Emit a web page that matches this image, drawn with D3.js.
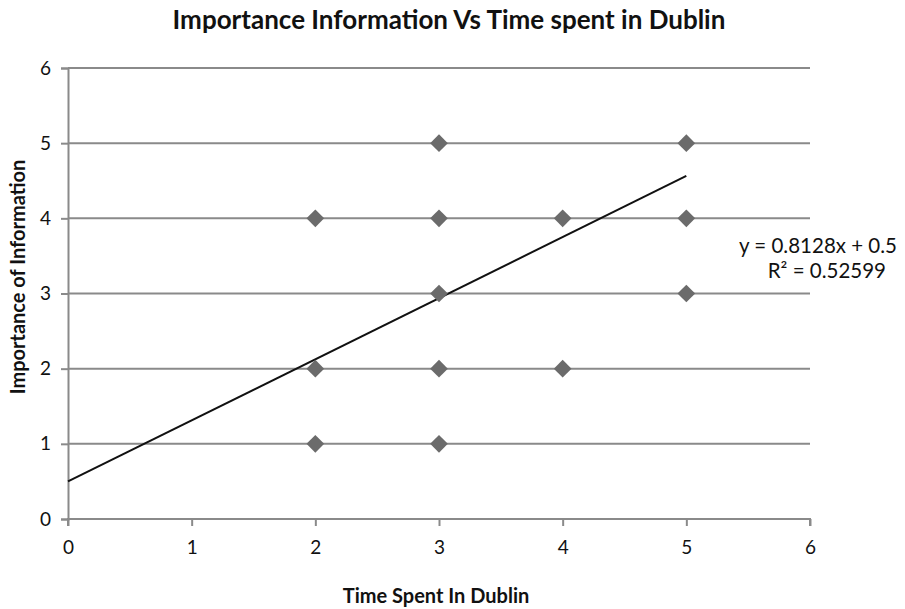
<!DOCTYPE html>
<html><head><meta charset="utf-8">
<script src="https://cdn.jsdelivr.net/npm/d3@7"></script>
<style>body{margin:0;background:#fff}svg{display:block}text{font-family:Lato,"Open Sans",sans-serif}</style>
</head><body>
<svg id="c" width="905" height="609"></svg>
<script>
const xValues = [2, 2, 2, 3, 3, 3, 3, 3, 4, 4, 5, 5, 5];
const yValues = [4, 2, 1, 5, 4, 3, 2, 1, 4, 2, 5, 4, 3];
const xTicks = [0, 1, 2, 3, 4, 5, 6];
const yTicks = [0, 1, 2, 3, 4, 5, 6];
const trendSlope = 0.8128, trendIntercept = 0.5, trendRange = [0, 5];
const equationLines = ["y = 0.8128x + 0.5", "R² = 0.52599"];
const titleText = "Importance Information Vs Time spent in Dublin";
const xTitle = "Time Spent In Dublin", yTitle = "Importance of Information";

const svg = d3.select("#c");
const L = 68, R = 810, T = 68, B = 519;
const x = d3.scaleLinear().domain([0, 6]).range([L, R]);
const y = d3.scaleLinear().domain([0, 6]).range([B, T]);
const grey = "#8a8a8a";

// gridlines
svg.append("g").selectAll("line").data(yTicks.filter(d => d > 0)).join("line")
  .attr("x1", L).attr("x2", R).attr("y1", d => y(d)).attr("y2", d => y(d))
  .attr("stroke", grey).attr("stroke-width", 2);

// axes
const xa = svg.append("g").attr("transform", `translate(0,${B})`)
  .call(d3.axisBottom(x).tickValues(xTicks).tickSize(7).tickPadding(11).tickFormat(d3.format("d")));
const ya = svg.append("g").attr("transform", `translate(${L},0)`)
  .call(d3.axisLeft(y).tickValues(yTicks).tickSize(7).tickPadding(10).tickFormat(d3.format("d")));
[xa, ya].forEach(a => {
  a.select(".domain").attr("stroke", grey).attr("stroke-width", 2);
  a.selectAll(".tick line").attr("stroke", grey).attr("stroke-width", 2);
  a.selectAll(".tick text").attr("fill", "#111").style("font-size", "19px").style("font-family", "Lato, sans-serif");
});
xa.selectAll(".tick text").attr("dy", "0.9em");
xa.select(".domain").attr("d", `M${L},7V0H${R}V7`);

// trendline
svg.append("line")
  .attr("x1", x(trendRange[0])).attr("y1", y(trendIntercept + trendSlope * trendRange[0]))
  .attr("x2", x(trendRange[1])).attr("y2", y(trendIntercept + trendSlope * trendRange[1]))
  .attr("stroke", "#111").attr("stroke-width", 2);

// points
const sym = d3.symbol().type(d3.symbolDiamond2).size(200);
svg.append("g").selectAll("path").data(xValues.map((v, i) => [v, yValues[i]])).join("path")
  .attr("d", sym).attr("transform", d => `translate(${x(d[0])},${y(d[1])})`)
  .attr("fill", "#6b6b6b");

// equation
svg.append("text").attr("x", 897).attr("y", 253).attr("text-anchor", "end")
  .style("font-size", "20.5px").attr("fill", "#111").text(equationLines[0]);
svg.append("text").attr("x", 886).attr("y", 278).attr("text-anchor", "end")
  .style("font-size", "20.5px").attr("fill", "#111").text(equationLines[1]);

// titles
svg.append("text").attr("x", 449).attr("y", 29).attr("text-anchor", "middle")
  .style("font-size", "26px").style("font-weight", "bold").attr("fill", "#111").text(titleText);
svg.append("text").attr("x", 436).attr("y", 603).attr("text-anchor", "middle")
  .style("font-size", "20px").style("font-weight", "bold").attr("fill", "#111").text(xTitle);
svg.append("text").attr("transform", "translate(25,277) rotate(-90)").attr("text-anchor", "middle")
  .style("font-size", "20px").style("font-weight", "bold").attr("fill", "#111").text(yTitle);
</script>
</body></html>
